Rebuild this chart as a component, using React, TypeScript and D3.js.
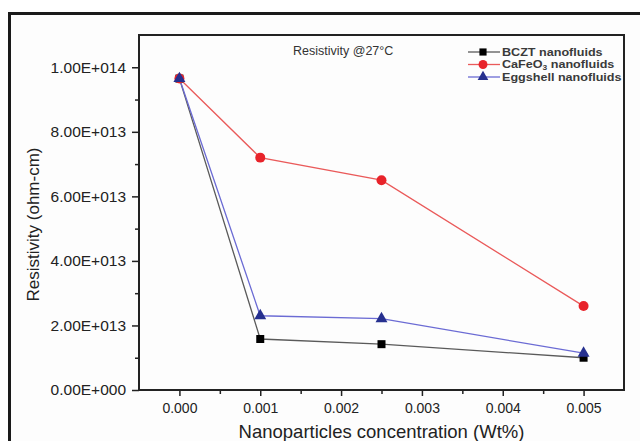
import React, { useRef, useEffect } from "react";
import * as d3 from "d3";

// concentration (Wt%) on x, resistivity (ohm-cm) on y
const concentrations = [0, 0.001, 0.0025, 0.005];
const bcztValues = [9.65e13, 1.58e13, 1.42e13, 1.0e13];
const cafeo3Values = [9.65e13, 7.2e13, 6.5e13, 2.6e13];
const eggshellValues = [9.65e13, 2.3e13, 2.21e13, 1.14e13];

const xTicks = [0, 0.001, 0.002, 0.003, 0.004, 0.005];
const xMinorTicks = [0.0005, 0.0015, 0.0025, 0.0035, 0.0045];
const yTicks = [0, 2e13, 4e13, 6e13, 8e13, 1e14];
const yMinorTicks = [1e13, 3e13, 5e13, 7e13, 9e13];

const seriesNames = ["BCZT nanofluids", "CaFeO3 nanofluids", "Eggshell nanofluids"];

const FONT = "'Liberation Sans', Arial, sans-serif";

const sciFormat = (v: number) => {
  if (v === 0) return "0.00E+000";
  const exp = Math.floor(Math.log10(v));
  const mant = v / Math.pow(10, exp);
  return mant.toFixed(2) + "E+" + String(exp).padStart(3, "0");
};

const App = () => {
  const svgRef = useRef<SVGSVGElement | null>(null);

  useEffect(() => {
    const width = 640;
    const height = 441;
    const margin = { top: 35, right: 16, bottom: 51, left: 139 };
    const innerWidth = width - margin.left - margin.right;
    const innerHeight = height - margin.top - margin.bottom;

    const svg = d3.select(svgRef.current);
    svg.selectAll("*").remove();

    svg.append("rect").attr("width", width).attr("height", height).attr("fill", "#ffffff");

    // outer figure frame (runs off the page on the right and bottom)
    svg
      .append("rect")
      .attr("x", 9.5)
      .attr("y", 13.5)
      .attr("width", 700)
      .attr("height", 500)
      .attr("fill", "#fdfdfd")
      .attr("stroke", "#1a1a1a")
      .attr("stroke-width", 3);

    const chart = svg
      .append("g")
      .attr("transform", `translate(${margin.left},${margin.top})`);

    const x = d3.scaleLinear().domain([-0.0005, 0.0055]).range([0, innerWidth]);
    const y = d3.scaleLinear().domain([0, 1.1e14]).range([innerHeight, 0]);

    // x axis
    const xAxis = chart
      .append("g")
      .attr("transform", `translate(0,${innerHeight})`)
      .call(d3.axisBottom(x).tickValues(xTicks).tickSize(6).tickPadding(7).tickFormat(d3.format(".3f")));
    xAxis.select(".domain").remove();
    xAxis.selectAll("line").attr("stroke", "#222").attr("stroke-width", 1.5);
    xAxis
      .selectAll("text")
      .style("font-family", FONT)
      .style("font-size", "14px")
      .attr("fill", "#222");

    const xMinor = chart
      .append("g")
      .attr("transform", `translate(0,${innerHeight})`)
      .call(d3.axisBottom(x).tickValues(xMinorTicks).tickSize(4).tickFormat(() => ""));
    xMinor.select(".domain").remove();
    xMinor.selectAll("line").attr("stroke", "#222").attr("stroke-width", 1.5);

    // y axis
    const yAxis = chart
      .append("g")
      .call(d3.axisLeft(y).tickValues(yTicks).tickSize(7).tickPadding(6).tickFormat((d) => sciFormat(+d)));
    yAxis.select(".domain").remove();
    yAxis.selectAll("line").attr("stroke", "#222").attr("stroke-width", 1.5);
    yAxis
      .selectAll("text")
      .style("font-family", FONT)
      .style("font-size", "15.5px")
      .attr("fill", "#222");

    const yMinor = chart
      .append("g")
      .call(d3.axisLeft(y).tickValues(yMinorTicks).tickSize(4).tickFormat(() => ""));
    yMinor.select(".domain").remove();
    yMinor.selectAll("line").attr("stroke", "#222").attr("stroke-width", 1.5);

    // plot frame
    chart
      .append("rect")
      .attr("width", innerWidth)
      .attr("height", innerHeight)
      .attr("fill", "none")
      .attr("stroke", "#222")
      .attr("stroke-width", 2);

    const series = [
      { name: seriesNames[0], values: bcztValues, line: "#5a5a5a", fill: "#000000", shape: d3.symbolSquare, size: 64 },
      { name: seriesNames[1], values: cafeo3Values, line: "#ea5a5a", fill: "#e8232a", shape: d3.symbolCircle, size: 78 },
      { name: seriesNames[2], values: eggshellValues, line: "#6b6bd4", fill: "#26308f", shape: d3.symbolTriangle, size: 62 },
    ];

    const line = d3
      .line<number>()
      .x((_, i) => x(concentrations[i]))
      .y((d) => y(d));

    series.forEach((s) => {
      chart
        .append("path")
        .datum(s.values)
        .attr("d", line)
        .attr("fill", "none")
        .attr("stroke", s.line)
        .attr("stroke-width", 1.3);
    });

    series.forEach((s) => {
      chart
        .selectAll(null)
        .data(s.values)
        .join("path")
        .attr("transform", (d, i) => `translate(${x(concentrations[i])},${y(d)})`)
        .attr("d", d3.symbol().type(s.shape).size(s.size)())
        .attr("fill", s.fill);
    });

    // title inside the plot
    svg
      .append("text")
      .attr("x", 293)
      .attr("y", 55)
      .style("font-family", FONT)
      .style("font-size", "12.5px")
      .attr("fill", "#333")
      .text("Resistivity @27°C");

    // legend
    const legend = svg.append("g").attr("transform", "translate(468,52)");
    series.forEach((s, i) => {
      const row = legend.append("g").attr("transform", `translate(0,${i * 12.5})`);
      row
        .append("line")
        .attr("x1", 0)
        .attr("x2", 32)
        .attr("stroke", s.line)
        .attr("stroke-width", 1.3);
      row
        .append("path")
        .attr("transform", "translate(15,0)")
        .attr("d", d3.symbol().type(s.shape).size(s.size * 0.8)())
        .attr("fill", s.fill);
      const label = row
        .append("text")
        .attr("transform", "translate(34,0) scale(1.2,1)")
        .attr("dy", "0.36em")
        .style("font-family", FONT)
        .style("font-size", "10.5px")
        .style("font-weight", "bold")
        .attr("fill", "#3a3a3a");
      if (i === 1) {
        label.append("tspan").text("CaFeO");
        label.append("tspan").attr("font-size", "7px").attr("dy", "2").text("3");
        label.append("tspan").attr("dy", "-2").text(" nanofluids");
      } else {
        label.text(s.name);
      }
    });

    // axis titles
    svg
      .append("text")
      .attr("transform", `translate(39,${margin.top + innerHeight / 2 + 12}) rotate(-90)`)
      .attr("text-anchor", "middle")
      .style("font-family", FONT)
      .style("font-size", "17px")
      .attr("fill", "#222")
      .text("Resistivity (ohm-cm)");

    svg
      .append("text")
      .attr("x", margin.left + innerWidth / 2)
      .attr("y", 438)
      .attr("text-anchor", "middle")
      .style("font-family", FONT)
      .style("font-size", "18.5px")
      .attr("fill", "#222")
      .text("Nanoparticles concentration (Wt%)");
  }, []);

  return (
    <div style={{ position: "absolute", left: 0, top: 0 }}>
      <svg ref={svgRef} width={640} height={441} style={{ display: "block" }} />
    </div>
  );
};

export default App;
